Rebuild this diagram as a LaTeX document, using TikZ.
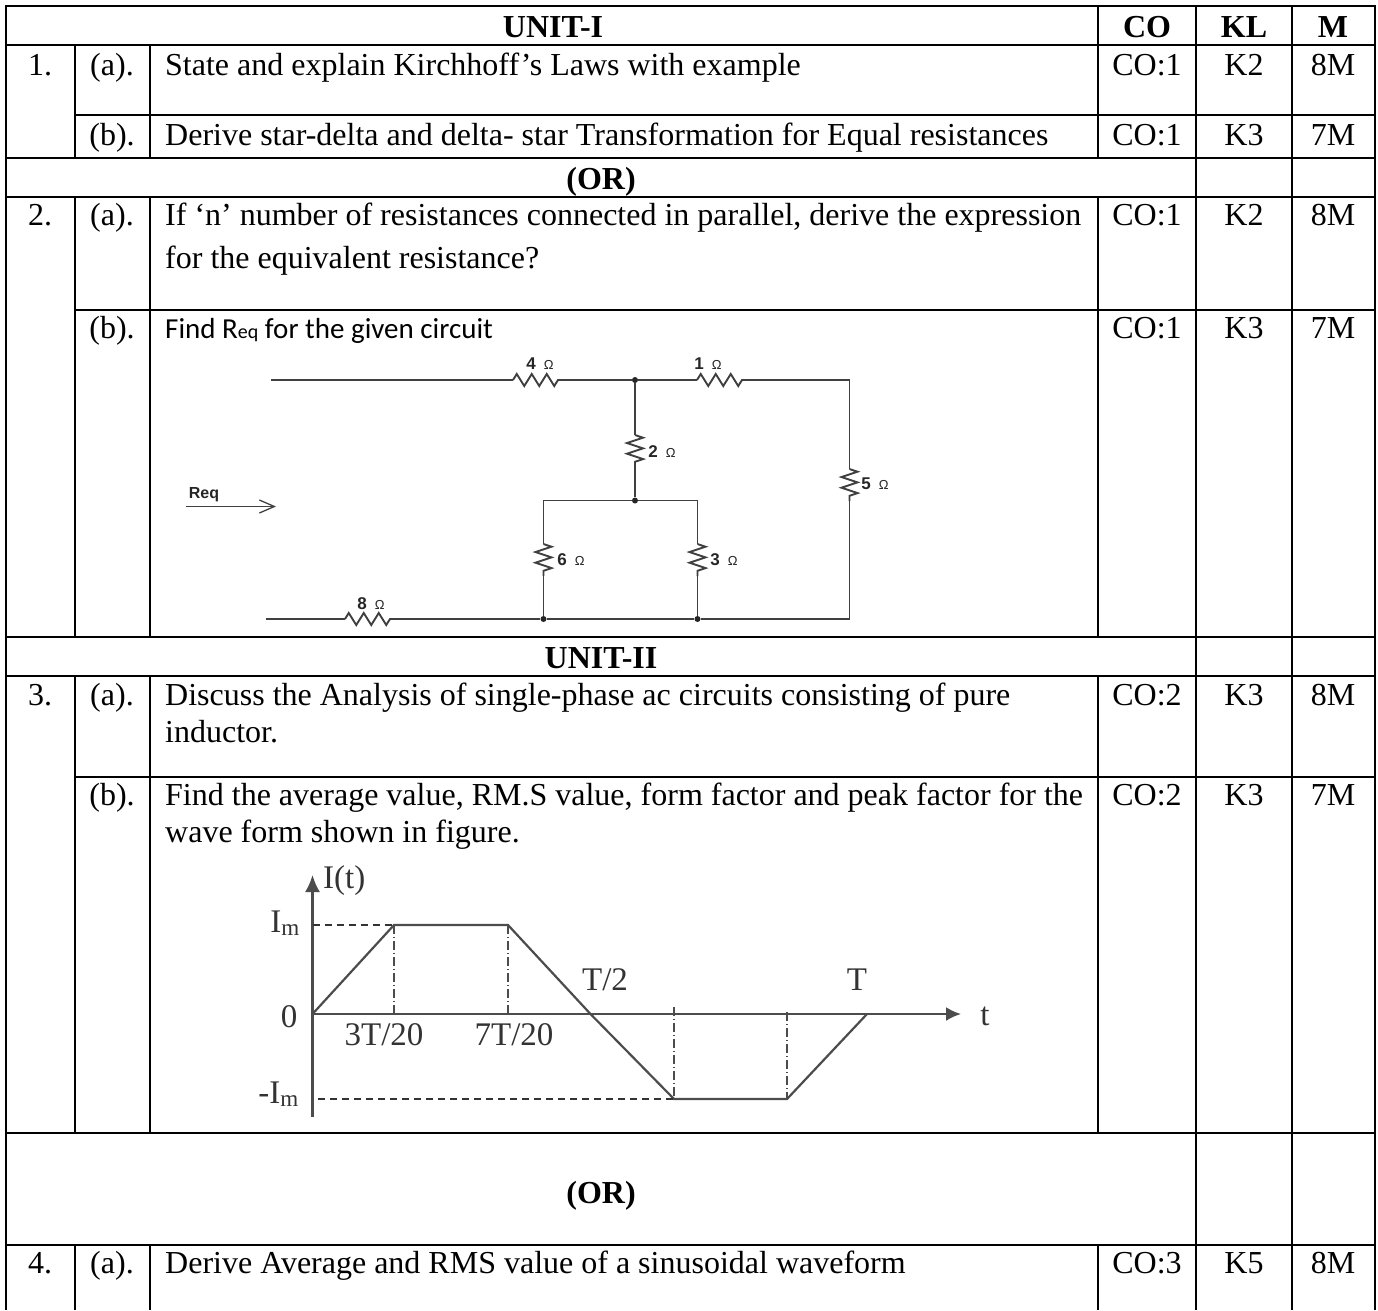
\documentclass[tikz,border=0pt]{standalone}
\usepackage{fontspec}
\setmainfont{Liberation Serif}
\newfontfamily\calibrifont{Carlito}
\newfontfamily\arialfont{Liberation Sans}
\usetikzlibrary{positioning,arrows.meta,decorations.pathmorphing}
\tikzset{
  rule/.style = {line width=2pt, black},
  heavy/.style = {line width=2.8pt, black},
  cell/.style = {inner sep=0pt, font=\fontsize{32}{38}\selectfont},
  lft/.style  = {cell, anchor=base west},
  mid/.style  = {cell, anchor=base},
  head/.style = {mid, font=\fontsize{32}{38}\selectfont\bfseries},
  wire/.style = {line width=1.9pt, black!75},
  res/.style  = {wire, decorate, decoration={zigzag, segment length=15pt, amplitude=6pt}},
  resv/.style = {wire, decorate, decoration={zigzag, segment length=10.7pt, amplitude=8pt}},
  dot/.style  = {circle, fill=black!85, inner sep=0pt, minimum size=6pt},
  ohm/.style  = {inner sep=0pt, text=black!85, font=\arialfont\bfseries\fontsize{17}{17}\selectfont},
  wave/.style = {line width=2.2pt, black!70},
  tick/.style = {line width=1.3pt, black!70, dash pattern=on 9pt off 3pt on 1pt off 3pt},
  lev/.style  = {line width=1.4pt, black!80, dash pattern=on 7pt off 5pt},
  wlab/.style = {inner sep=0pt, anchor=base, text=black!80, font=\fontsize{33}{34}\selectfont}
}
\newcommand{\ohmsign}{{\mdseries\fontsize{13}{13}\selectfont\hspace{8pt}Ω}}
\begin{document}
\begin{tikzpicture}[x=1pt,y=-1pt]
  \useasboundingbox (0,0) rectangle (1378,1310);

  % table
  \draw[rule] (6,1310)--(6,6)--(1375,6)--(1375,1310);
  \draw[rule] (6,45)--(1375,45);
  \draw[rule] (75,115)--(1375,115);
  \draw[rule] (6,158)--(1375,158);
  \draw[rule] (6,197)--(1375,197);
  \draw[rule] (75,310)--(1375,310);
  \draw[rule] (6,637)--(1375,637);
  \draw[rule] (6,676)--(1375,676);
  \draw[rule] (75,777)--(1375,777);
  \draw[heavy] (6,1133)--(1375,1133);
  \draw[heavy] (6,1245)--(1375,1245);
  \draw[rule] (75,45)--(75,158) (75,197)--(75,637) (75,676)--(75,1133) (75,1245)--(75,1310);
  \draw[rule] (150,45)--(150,158) (150,197)--(150,637) (150,676)--(150,1133) (150,1245)--(150,1310);
  \draw[rule] (1098,6)--(1098,158) (1098,197)--(1098,637) (1098,676)--(1098,1133) (1098,1245)--(1098,1310);
  \draw[rule] (1196,6)--(1196,1310);
  \draw[rule] (1292,6)--(1292,1310);

  % headers
  \node[head] (unitone) at (553,37) {UNIT-I};
  \node[head] (coh) at (1147,37) {CO};
  \node[head] (klh) at (1244,37) {KL};
  \node[head] (mh) at (1333,37) {M};

  % question 1
  \node[mid] (n1) at (40,75) {1.};
  \node[mid] (a1) at (112,75) {(a).};
  \node[lft] (q1a) at (165,75) {State and explain Kirchhoff’s Laws with example};
  \node[mid] (co1a) at (1147,75) {CO:1};
  \node[mid] (kl1a) at (1244,75) {K2};
  \node[mid] (m1a) at (1333,75) {8M};
  \node[mid] (b1) at (112,145) {(b).};
  \node[lft] (q1b) at (165,145) {Derive star-delta and delta- star Transformation for Equal resistances};
  \node[mid] (co1b) at (1147,145) {CO:1};
  \node[mid] (kl1b) at (1244,145) {K3};
  \node[mid] (m1b) at (1333,145) {7M};
  \node[head] (orone) at (601,189) {(OR)};

  % question 2
  \node[mid] (n2) at (40,225) {2.};
  \node[mid] (a2) at (112,225) {(a).};
  \node[lft] (q2a) at (165,225) {If ‘n’ number of resistances connected in parallel, derive the expression};
  \node[lft] (q2c) at (165,268) {for the equivalent resistance?};
  \node[mid] (co2a) at (1147,225) {CO:1};
  \node[mid] (kl2a) at (1244,225) {K2};
  \node[mid] (m2a) at (1333,225) {8M};
  \node[mid] (b2) at (112,338) {(b).};
  \node[lft,font=\calibrifont\fontsize{29}{34}\selectfont] (q2b) at (165,338)
    {Find R{\fontsize{20}{20}\selectfont eq} for the given circuit};
  \node[mid] (co2b) at (1147,338) {CO:1};
  \node[mid] (kl2b) at (1244,338) {K3};
  \node[mid] (m2b) at (1333,338) {7M};

  % circuit
  \coordinate (tl) at (271,380);
  \coordinate (ra) at (513,380);
  \coordinate (rb) at (559,380);
  \node[dot] (top) at (635,380) {};
  \coordinate (rc) at (697,380);
  \coordinate (rd) at (743,380);
  \coordinate (tr) at (849.5,380);
  \coordinate (re) at (849.5,469);
  \coordinate (rf) at (849.5,501);
  \coordinate (br) at (849.5,619);
  \coordinate (rg) at (635,435);
  \coordinate (rh) at (635,467);
  \node[dot] (midn) at (635,500.5) {};
  \coordinate (ml) at (543.5,500.5);
  \coordinate (mr) at (697.5,500.5);
  \coordinate (ri) at (543.5,544);
  \coordinate (rj) at (543.5,576);
  \coordinate (rk) at (697.5,544);
  \coordinate (rl) at (697.5,576);
  \node[dot] (bl) at (543.5,619) {};
  \node[dot] (bm) at (697.5,619) {};
  \coordinate (wl) at (266,619);
  \coordinate (rm) at (345,619);
  \coordinate (rn) at (391,619);
  \draw[wire] (tl)--(ra) (rb)--(top)--(rc) (rd)--(tr)--(re) (rf)--(br)--(bm)--(bl)--(rn) (rm)--(wl);
  \draw[wire] (top)--(rg) (rh)--(midn);
  \draw[wire] (ri)--(ml)--(midn)--(mr)--(rk) (rj)--(bl) (rl)--(bm);
  \draw[res] (ra)--(rb);
  \draw[res] (rc)--(rd);
  \draw[res] (rm)--(rn);
  \draw[resv] (re)--(rf);
  \draw[resv] (rg)--(rh);
  \draw[resv] (ri)--(rj);
  \draw[resv] (rk)--(rl);
  \node[ohm] (o4) at (540,364) {4\ohmsign};
  \node[ohm] (o1) at (708,364) {1\ohmsign};
  \node[ohm] (o2) at (662,452) {2\ohmsign};
  \node[ohm] (o5) at (875,484) {5\ohmsign};
  \node[ohm] (o6) at (571,560) {6\ohmsign};
  \node[ohm] (o3) at (724,560) {3\ohmsign};
  \node[ohm] (o8) at (371,604) {8\ohmsign};
  \node[ohm,font=\arialfont\bfseries\fontsize{16}{16}\selectfont] (req) at (204,495) {Req};
  \coordinate (ara) at (186,506.5);
  \coordinate (arb) at (276,506.5);
  \draw[wire,line width=1.3pt,-{Straight Barb[length=15pt,width=13pt]}] (ara)--(arb);

  % unit two
  \node[head] (unittwo) at (601,668) {UNIT-II};

  % question 3
  \node[mid] (n3) at (40,705) {3.};
  \node[mid] (a3) at (112,705) {(a).};
  \node[lft] (q3a) at (165,705) {Discuss the Analysis of single-phase ac circuits consisting of pure};
  \node[lft] (q3c) at (165,742) {inductor.};
  \node[mid] (co3a) at (1147,705) {CO:2};
  \node[mid] (kl3a) at (1244,705) {K3};
  \node[mid] (m3a) at (1333,705) {8M};
  \node[mid] (b3) at (112,805) {(b).};
  \node[lft] (q3b) at (165,805) {Find the average value, RM.S value, form factor and peak factor for the};
  \node[lft] (q3d) at (165,842) {wave form shown in figure.};
  \node[mid] (co3b) at (1147,805) {CO:2};
  \node[mid] (kl3b) at (1244,805) {K3};
  \node[mid] (m3b) at (1333,805) {7M};

  % waveform
  \coordinate (org) at (312.5,1014);
  \coordinate (ytop) at (312.5,875);
  \coordinate (ybot) at (312.5,1117);
  \coordinate (xend) at (961,1014);
  \coordinate (pa) at (394,925);
  \coordinate (pb) at (508,925);
  \coordinate (pc) at (590.5,1014);
  \coordinate (pd) at (674,1099);
  \coordinate (pe) at (787,1099);
  \coordinate (pf) at (867,1014);
  \coordinate (ima) at (312.5,925);
  \coordinate (imb) at (318,1099);
  \coordinate (ta) at (394,1014);
  \coordinate (tb) at (508,1014);
  \coordinate (tc) at (674,1007);
  \coordinate (td) at (787,1012);
  \draw[wave,-{Latex[length=17pt,width=15pt]}] (ybot)--(ytop);
  \draw[wave,-{Latex[length=15pt,width=14pt]}] (org)--(xend);
  \draw[wave] (org)--(pa)--(pb)--(pc)--(pd)--(pe)--(pf);
  \draw[lev] (ima)--(pa);
  \draw[lev] (imb)--(pd);
  \draw[tick] (pa)--(ta);
  \draw[tick] (pb)--(tb);
  \draw[tick] (tc)--(pd);
  \draw[tick] (td)--(pe);
  \node[wlab,anchor=base west] (it) at (323,888) {I(t)};
  \node[wlab,anchor=base east] (im) at (300,932) {I\textsubscript{m}};
  \node[wlab] (zero) at (289,1027) {0};
  \node[wlab] (tthree) at (384,1045) {3T/20};
  \node[wlab] (tseven) at (514,1045) {7T/20};
  \node[wlab] (thalf) at (605,990) {T/2};
  \node[wlab] (tfull) at (857,990) {T};
  \node[wlab,anchor=base east] (imn) at (299,1103) {-I\textsubscript{m}};
  \node[wlab] (tvar) at (985,1025) {t};

  % second or
  \node[head] (ortwo) at (601,1203) {(OR)};

  % question 4
  \node[mid] (n4) at (40,1273) {4.};
  \node[mid] (a4) at (112,1273) {(a).};
  \node[lft] (q4a) at (165,1273) {Derive Average and RMS value of a sinusoidal waveform};
  \node[mid] (co4a) at (1147,1273) {CO:3};
  \node[mid] (kl4a) at (1244,1273) {K5};
  \node[mid] (m4a) at (1333,1273) {8M};
\end{tikzpicture}
\end{document}
